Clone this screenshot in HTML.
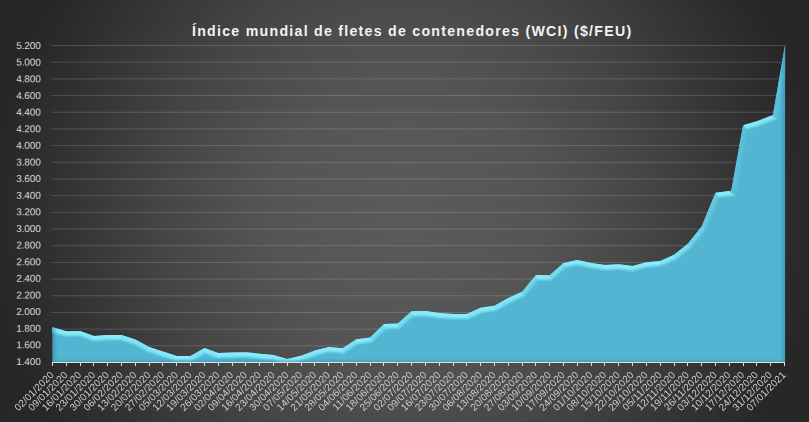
<!DOCTYPE html>
<html lang="es"><head><meta charset="utf-8"><title>WCI</title>
<style>
html,body{margin:0;padding:0;background:#2a2a2a;}
body{width:809px;height:422px;overflow:hidden;}
svg{display:block;}
text{font-family:"Liberation Sans","DejaVu Sans",sans-serif;}
.yl{font-size:10px;fill:#d9d9d9;letter-spacing:-0.1px;}
.xl{font-size:10px;fill:#d0d0d0;letter-spacing:0.1px;}
.title{font-size:14.2px;font-weight:bold;fill:#f2f2f2;letter-spacing:1.25px;}
</style></head><body>
<svg width="809" height="422" viewBox="0 0 809 422">
<defs>
<radialGradient id="bg" cx="405" cy="215" r="410" gradientUnits="userSpaceOnUse">
<stop offset="0" stop-color="#5a5a5a"/><stop offset="0.32" stop-color="#555555"/><stop offset="0.5" stop-color="#4b4b4b"/><stop offset="0.61" stop-color="#444444"/><stop offset="0.87" stop-color="#303030"/><stop offset="1" stop-color="#272727"/>
</radialGradient>
<clipPath id="areaclip"><path d="M52.50,362.50 L52.50,327.30 L66.31,331.22 L80.12,330.88 L93.93,335.89 L107.75,335.05 L121.56,335.05 L135.37,339.39 L149.18,347.07 L162.99,351.49 L176.80,355.91 L190.61,355.91 L204.42,348.07 L218.24,353.07 L232.05,352.41 L245.86,352.16 L259.67,353.74 L273.48,354.99 L287.29,358.91 L301.10,355.66 L314.92,350.49 L328.73,347.07 L342.54,348.24 L356.35,339.14 L370.16,337.39 L383.97,323.96 L397.78,323.46 L411.59,311.36 L425.41,311.11 L439.22,313.11 L453.03,314.03 L466.84,314.03 L480.65,307.86 L494.46,305.86 L508.27,298.10 L522.08,291.68 L535.90,274.99 L549.71,275.24 L563.52,262.90 L577.33,259.89 L591.14,262.90 L604.95,265.06 L618.76,264.31 L632.58,265.90 L646.39,262.23 L660.20,260.89 L674.01,254.80 L687.82,243.71 L701.63,226.52 L715.44,192.82 L731.25,190.77 L743.07,125.17 L756.88,121.25 L772.89,115.07 L785.10,44.67 L785.10,362.50 Z"/></clipPath>
<linearGradient id="sideL" x1="0" y1="0" x2="1" y2="0"><stop offset="0" stop-color="#2f88a6" stop-opacity="0.55"/><stop offset="1" stop-color="#2f88a6" stop-opacity="0"/></linearGradient>
<linearGradient id="sideR" x1="1" y1="0" x2="0" y2="0"><stop offset="0" stop-color="#2f88a6" stop-opacity="0.55"/><stop offset="1" stop-color="#2f88a6" stop-opacity="0"/></linearGradient>
<linearGradient id="sideB" x1="0" y1="1" x2="0" y2="0"><stop offset="0" stop-color="#2f88a6" stop-opacity="0.5"/><stop offset="1" stop-color="#2f88a6" stop-opacity="0"/></linearGradient>
<filter id="blur1" x="-5%" y="-5%" width="110%" height="110%"><feGaussianBlur stdDeviation="0.7"/></filter>
<linearGradient id="g0" gradientUnits="userSpaceOnUse" x1="51.00" y1="326.87" x2="49.22" y2="333.12"><stop offset="0" stop-color="#87edfd"/><stop offset="0.5" stop-color="#7fe5f6"/><stop offset="1" stop-color="#52b5d1"/></linearGradient>
<linearGradient id="g1" gradientUnits="userSpaceOnUse" x1="59.41" y1="329.26" x2="57.63" y2="335.51"><stop offset="0" stop-color="#87edfd"/><stop offset="0.5" stop-color="#7fe5f6"/><stop offset="1" stop-color="#52b5d1"/></linearGradient>
<linearGradient id="g2" gradientUnits="userSpaceOnUse" x1="73.22" y1="331.05" x2="73.37" y2="337.55"><stop offset="0" stop-color="#8af0ff"/><stop offset="0.5" stop-color="#82e7f8"/><stop offset="1" stop-color="#52b5d1"/></linearGradient>
<linearGradient id="g3" gradientUnits="userSpaceOnUse" x1="87.03" y1="333.39" x2="84.81" y2="339.50"><stop offset="0" stop-color="#86ecfc"/><stop offset="0.5" stop-color="#7ee4f6"/><stop offset="1" stop-color="#52b5d1"/></linearGradient>
<linearGradient id="g4" gradientUnits="userSpaceOnUse" x1="100.84" y1="335.47" x2="101.23" y2="341.96"><stop offset="0" stop-color="#8af0ff"/><stop offset="0.5" stop-color="#82e7f8"/><stop offset="1" stop-color="#52b5d1"/></linearGradient>
<linearGradient id="g5" gradientUnits="userSpaceOnUse" x1="114.65" y1="335.05" x2="114.65" y2="341.55"><stop offset="0" stop-color="#8af0ff"/><stop offset="0.5" stop-color="#82e7f8"/><stop offset="1" stop-color="#52b5d1"/></linearGradient>
<linearGradient id="g6" gradientUnits="userSpaceOnUse" x1="128.46" y1="337.22" x2="126.51" y2="343.42"><stop offset="0" stop-color="#87edfc"/><stop offset="0.5" stop-color="#7fe5f6"/><stop offset="1" stop-color="#52b5d1"/></linearGradient>
<linearGradient id="g7" gradientUnits="userSpaceOnUse" x1="142.27" y1="343.23" x2="139.12" y2="348.91"><stop offset="0" stop-color="#81e7f8"/><stop offset="0.5" stop-color="#7ae0f2"/><stop offset="1" stop-color="#52b5d1"/></linearGradient>
<linearGradient id="g8" gradientUnits="userSpaceOnUse" x1="156.08" y1="349.28" x2="154.10" y2="355.47"><stop offset="0" stop-color="#87ecfc"/><stop offset="0.5" stop-color="#7fe4f6"/><stop offset="1" stop-color="#52b5d1"/></linearGradient>
<linearGradient id="g9" gradientUnits="userSpaceOnUse" x1="169.90" y1="353.70" x2="167.91" y2="359.89"><stop offset="0" stop-color="#87ecfc"/><stop offset="0.5" stop-color="#7fe4f6"/><stop offset="1" stop-color="#52b5d1"/></linearGradient>
<linearGradient id="g10" gradientUnits="userSpaceOnUse" x1="183.71" y1="355.91" x2="183.71" y2="362.41"><stop offset="0" stop-color="#8af0ff"/><stop offset="0.5" stop-color="#82e7f8"/><stop offset="1" stop-color="#52b5d1"/></linearGradient>
<linearGradient id="g11" gradientUnits="userSpaceOnUse" x1="197.52" y1="351.99" x2="200.73" y2="357.64"><stop offset="0" stop-color="#81e7f8"/><stop offset="0.5" stop-color="#7ae0f2"/><stop offset="1" stop-color="#52b5d1"/></linearGradient>
<linearGradient id="g12" gradientUnits="userSpaceOnUse" x1="211.33" y1="350.57" x2="209.12" y2="356.68"><stop offset="0" stop-color="#86ecfc"/><stop offset="0.5" stop-color="#7ee4f6"/><stop offset="1" stop-color="#52b5d1"/></linearGradient>
<linearGradient id="g13" gradientUnits="userSpaceOnUse" x1="225.14" y1="352.74" x2="225.46" y2="359.23"><stop offset="0" stop-color="#8af0ff"/><stop offset="0.5" stop-color="#82e7f8"/><stop offset="1" stop-color="#52b5d1"/></linearGradient>
<linearGradient id="g14" gradientUnits="userSpaceOnUse" x1="238.95" y1="352.28" x2="239.07" y2="358.78"><stop offset="0" stop-color="#8af0ff"/><stop offset="0.5" stop-color="#82e7f8"/><stop offset="1" stop-color="#52b5d1"/></linearGradient>
<linearGradient id="g15" gradientUnits="userSpaceOnUse" x1="252.76" y1="352.95" x2="252.02" y2="359.41"><stop offset="0" stop-color="#8af0ff"/><stop offset="0.5" stop-color="#82e7f8"/><stop offset="1" stop-color="#52b5d1"/></linearGradient>
<linearGradient id="g16" gradientUnits="userSpaceOnUse" x1="266.58" y1="354.37" x2="265.99" y2="360.84"><stop offset="0" stop-color="#8af0ff"/><stop offset="0.5" stop-color="#82e7f8"/><stop offset="1" stop-color="#52b5d1"/></linearGradient>
<linearGradient id="g17" gradientUnits="userSpaceOnUse" x1="280.39" y1="356.95" x2="278.61" y2="363.21"><stop offset="0" stop-color="#87edfd"/><stop offset="0.5" stop-color="#7fe5f6"/><stop offset="1" stop-color="#52b5d1"/></linearGradient>
<linearGradient id="g18" gradientUnits="userSpaceOnUse" x1="294.20" y1="357.29" x2="295.69" y2="363.61"><stop offset="0" stop-color="#88eefd"/><stop offset="0.5" stop-color="#80e5f6"/><stop offset="1" stop-color="#52b5d1"/></linearGradient>
<linearGradient id="g19" gradientUnits="userSpaceOnUse" x1="308.01" y1="353.07" x2="310.29" y2="359.16"><stop offset="0" stop-color="#86ebfb"/><stop offset="0.5" stop-color="#7ee3f5"/><stop offset="1" stop-color="#52b5d1"/></linearGradient>
<linearGradient id="g20" gradientUnits="userSpaceOnUse" x1="321.82" y1="348.78" x2="323.38" y2="355.09"><stop offset="0" stop-color="#88eefd"/><stop offset="0.5" stop-color="#80e5f6"/><stop offset="1" stop-color="#52b5d1"/></linearGradient>
<linearGradient id="g21" gradientUnits="userSpaceOnUse" x1="335.63" y1="347.65" x2="335.08" y2="354.13"><stop offset="0" stop-color="#8af0ff"/><stop offset="0.5" stop-color="#82e7f8"/><stop offset="1" stop-color="#52b5d1"/></linearGradient>
<linearGradient id="g22" gradientUnits="userSpaceOnUse" x1="349.44" y1="343.69" x2="353.02" y2="349.12"><stop offset="0" stop-color="#7fe4f6"/><stop offset="0.5" stop-color="#78ddf0"/><stop offset="1" stop-color="#52b5d1"/></linearGradient>
<linearGradient id="g23" gradientUnits="userSpaceOnUse" x1="363.25" y1="338.27" x2="364.07" y2="344.71"><stop offset="0" stop-color="#89efff"/><stop offset="0.5" stop-color="#81e6f8"/><stop offset="1" stop-color="#52b5d1"/></linearGradient>
<linearGradient id="g24" gradientUnits="userSpaceOnUse" x1="377.07" y1="330.67" x2="381.60" y2="335.33"><stop offset="0" stop-color="#77dcf0"/><stop offset="0.5" stop-color="#71d6eb"/><stop offset="1" stop-color="#52b5d1"/></linearGradient>
<linearGradient id="g25" gradientUnits="userSpaceOnUse" x1="390.88" y1="323.71" x2="391.11" y2="330.20"><stop offset="0" stop-color="#8af0ff"/><stop offset="0.5" stop-color="#82e7f8"/><stop offset="1" stop-color="#52b5d1"/></linearGradient>
<linearGradient id="g26" gradientUnits="userSpaceOnUse" x1="404.69" y1="317.41" x2="408.97" y2="322.30"><stop offset="0" stop-color="#79dff1"/><stop offset="0.5" stop-color="#73d9ec"/><stop offset="1" stop-color="#52b5d1"/></linearGradient>
<linearGradient id="g27" gradientUnits="userSpaceOnUse" x1="418.50" y1="311.24" x2="418.62" y2="317.74"><stop offset="0" stop-color="#8af0ff"/><stop offset="0.5" stop-color="#82e7f8"/><stop offset="1" stop-color="#52b5d1"/></linearGradient>
<linearGradient id="g28" gradientUnits="userSpaceOnUse" x1="432.31" y1="312.11" x2="431.38" y2="318.55"><stop offset="0" stop-color="#89effe"/><stop offset="0.5" stop-color="#81e6f7"/><stop offset="1" stop-color="#52b5d1"/></linearGradient>
<linearGradient id="g29" gradientUnits="userSpaceOnUse" x1="446.12" y1="313.57" x2="445.69" y2="320.06"><stop offset="0" stop-color="#8af0ff"/><stop offset="0.5" stop-color="#82e7f8"/><stop offset="1" stop-color="#52b5d1"/></linearGradient>
<linearGradient id="g30" gradientUnits="userSpaceOnUse" x1="459.93" y1="314.03" x2="459.93" y2="320.53"><stop offset="0" stop-color="#8af0ff"/><stop offset="0.5" stop-color="#82e7f8"/><stop offset="1" stop-color="#52b5d1"/></linearGradient>
<linearGradient id="g31" gradientUnits="userSpaceOnUse" x1="473.75" y1="310.95" x2="476.40" y2="316.88"><stop offset="0" stop-color="#84eafa"/><stop offset="0.5" stop-color="#7ce2f4"/><stop offset="1" stop-color="#52b5d1"/></linearGradient>
<linearGradient id="g32" gradientUnits="userSpaceOnUse" x1="487.56" y1="306.86" x2="488.49" y2="313.29"><stop offset="0" stop-color="#89effe"/><stop offset="0.5" stop-color="#81e6f7"/><stop offset="1" stop-color="#52b5d1"/></linearGradient>
<linearGradient id="g33" gradientUnits="userSpaceOnUse" x1="501.37" y1="301.98" x2="504.55" y2="307.65"><stop offset="0" stop-color="#81e7f8"/><stop offset="0.5" stop-color="#7ae0f2"/><stop offset="1" stop-color="#52b5d1"/></linearGradient>
<linearGradient id="g34" gradientUnits="userSpaceOnUse" x1="515.18" y1="294.89" x2="517.92" y2="300.78"><stop offset="0" stop-color="#84e9fa"/><stop offset="0.5" stop-color="#7ce1f4"/><stop offset="1" stop-color="#52b5d1"/></linearGradient>
<linearGradient id="g35" gradientUnits="userSpaceOnUse" x1="528.99" y1="283.33" x2="534.00" y2="287.48"><stop offset="0" stop-color="#72d7ec"/><stop offset="0.5" stop-color="#6dd2e8"/><stop offset="1" stop-color="#52b5d1"/></linearGradient>
<linearGradient id="g36" gradientUnits="userSpaceOnUse" x1="542.80" y1="275.12" x2="542.68" y2="281.62"><stop offset="0" stop-color="#8af0ff"/><stop offset="0.5" stop-color="#82e7f8"/><stop offset="1" stop-color="#52b5d1"/></linearGradient>
<linearGradient id="g37" gradientUnits="userSpaceOnUse" x1="556.61" y1="269.07" x2="560.95" y2="273.91"><stop offset="0" stop-color="#79def1"/><stop offset="0.5" stop-color="#73d8ec"/><stop offset="1" stop-color="#52b5d1"/></linearGradient>
<linearGradient id="g38" gradientUnits="userSpaceOnUse" x1="570.42" y1="261.39" x2="571.81" y2="267.75"><stop offset="0" stop-color="#88eefe"/><stop offset="0.5" stop-color="#80e5f7"/><stop offset="1" stop-color="#52b5d1"/></linearGradient>
<linearGradient id="g39" gradientUnits="userSpaceOnUse" x1="584.24" y1="261.39" x2="582.85" y2="267.75"><stop offset="0" stop-color="#88eefe"/><stop offset="0.5" stop-color="#80e5f7"/><stop offset="1" stop-color="#52b5d1"/></linearGradient>
<linearGradient id="g40" gradientUnits="userSpaceOnUse" x1="598.05" y1="263.98" x2="597.04" y2="270.40"><stop offset="0" stop-color="#89effe"/><stop offset="0.5" stop-color="#81e6f7"/><stop offset="1" stop-color="#52b5d1"/></linearGradient>
<linearGradient id="g41" gradientUnits="userSpaceOnUse" x1="611.86" y1="264.69" x2="612.21" y2="271.18"><stop offset="0" stop-color="#8af0ff"/><stop offset="0.5" stop-color="#82e7f8"/><stop offset="1" stop-color="#52b5d1"/></linearGradient>
<linearGradient id="g42" gradientUnits="userSpaceOnUse" x1="625.67" y1="265.11" x2="624.93" y2="271.56"><stop offset="0" stop-color="#8af0ff"/><stop offset="0.5" stop-color="#82e7f8"/><stop offset="1" stop-color="#52b5d1"/></linearGradient>
<linearGradient id="g43" gradientUnits="userSpaceOnUse" x1="639.48" y1="264.06" x2="641.15" y2="270.35"><stop offset="0" stop-color="#88eefd"/><stop offset="0.5" stop-color="#80e5f6"/><stop offset="1" stop-color="#52b5d1"/></linearGradient>
<linearGradient id="g44" gradientUnits="userSpaceOnUse" x1="653.29" y1="261.56" x2="653.92" y2="268.03"><stop offset="0" stop-color="#8af0ff"/><stop offset="0.5" stop-color="#82e7f8"/><stop offset="1" stop-color="#52b5d1"/></linearGradient>
<linearGradient id="g45" gradientUnits="userSpaceOnUse" x1="667.10" y1="257.85" x2="669.73" y2="263.80"><stop offset="0" stop-color="#84eafa"/><stop offset="0.5" stop-color="#7ce2f4"/><stop offset="1" stop-color="#52b5d1"/></linearGradient>
<linearGradient id="g46" gradientUnits="userSpaceOnUse" x1="680.92" y1="249.26" x2="684.99" y2="254.32"><stop offset="0" stop-color="#7be0f3"/><stop offset="0.5" stop-color="#75daee"/><stop offset="1" stop-color="#52b5d1"/></linearGradient>
<linearGradient id="g47" gradientUnits="userSpaceOnUse" x1="694.73" y1="235.12" x2="699.79" y2="239.19"><stop offset="0" stop-color="#72d6eb"/><stop offset="0.5" stop-color="#6dd1e7"/><stop offset="1" stop-color="#52b5d1"/></linearGradient>
<linearGradient id="g48" gradientUnits="userSpaceOnUse" x1="708.54" y1="209.67" x2="714.55" y2="212.14"><stop offset="0" stop-color="#65c9e0"/><stop offset="0.5" stop-color="#62c6de"/><stop offset="1" stop-color="#52b5d1"/></linearGradient>
<linearGradient id="g49" gradientUnits="userSpaceOnUse" x1="723.35" y1="191.80" x2="724.19" y2="198.24"><stop offset="0" stop-color="#89efff"/><stop offset="0.5" stop-color="#81e6f8"/><stop offset="1" stop-color="#52b5d1"/></linearGradient>
<linearGradient id="g50" gradientUnits="userSpaceOnUse" x1="737.16" y1="157.97" x2="743.56" y2="159.12"><stop offset="0" stop-color="#5cc0d9"/><stop offset="0.5" stop-color="#5abed8"/><stop offset="1" stop-color="#52b5d1"/></linearGradient>
<linearGradient id="g51" gradientUnits="userSpaceOnUse" x1="749.97" y1="123.21" x2="751.75" y2="129.46"><stop offset="0" stop-color="#87edfd"/><stop offset="0.5" stop-color="#7fe5f6"/><stop offset="1" stop-color="#52b5d1"/></linearGradient>
<linearGradient id="g52" gradientUnits="userSpaceOnUse" x1="764.88" y1="118.16" x2="767.22" y2="124.23"><stop offset="0" stop-color="#85ebfb"/><stop offset="0.5" stop-color="#7de3f5"/><stop offset="1" stop-color="#52b5d1"/></linearGradient>
<linearGradient id="g53" gradientUnits="userSpaceOnUse" x1="778.99" y1="79.87" x2="785.40" y2="80.98"><stop offset="0" stop-color="#5cbfd9"/><stop offset="0.5" stop-color="#5abed8"/><stop offset="1" stop-color="#52b5d1"/></linearGradient>
<linearGradient id="g54" gradientUnits="userSpaceOnUse" x1="786.60" y1="37.02" x2="792.98" y2="38.27"><stop offset="0" stop-color="#5dc0da"/><stop offset="0.5" stop-color="#5bbed9"/><stop offset="1" stop-color="#52b5d1"/></linearGradient>
</defs>
<rect width="809" height="422" fill="url(#bg)"/>
<rect x="51" y="45.00" width="733.5" height="1" fill="#ffffff" fill-opacity="0.16"/>
<text transform="translate(40.7,49.00) rotate(0.03)" text-anchor="end" class="yl">5.200</text>
<rect x="51" y="61.68" width="733.5" height="1" fill="#ffffff" fill-opacity="0.16"/>
<text transform="translate(40.7,65.63) rotate(0.03)" text-anchor="end" class="yl">5.000</text>
<rect x="51" y="78.37" width="733.5" height="1" fill="#ffffff" fill-opacity="0.16"/>
<text transform="translate(40.7,82.26) rotate(0.03)" text-anchor="end" class="yl">4.800</text>
<rect x="51" y="95.05" width="733.5" height="1" fill="#ffffff" fill-opacity="0.16"/>
<text transform="translate(40.7,98.89) rotate(0.03)" text-anchor="end" class="yl">4.600</text>
<rect x="51" y="111.74" width="733.5" height="1" fill="#ffffff" fill-opacity="0.16"/>
<text transform="translate(40.7,115.52) rotate(0.03)" text-anchor="end" class="yl">4.400</text>
<rect x="51" y="128.42" width="733.5" height="1" fill="#ffffff" fill-opacity="0.16"/>
<text transform="translate(40.7,132.15) rotate(0.03)" text-anchor="end" class="yl">4.200</text>
<rect x="51" y="145.11" width="733.5" height="1" fill="#ffffff" fill-opacity="0.16"/>
<text transform="translate(40.7,148.78) rotate(0.03)" text-anchor="end" class="yl">4.000</text>
<rect x="51" y="161.79" width="733.5" height="1" fill="#ffffff" fill-opacity="0.16"/>
<text transform="translate(40.7,165.41) rotate(0.03)" text-anchor="end" class="yl">3.800</text>
<rect x="51" y="178.47" width="733.5" height="1" fill="#ffffff" fill-opacity="0.16"/>
<text transform="translate(40.7,182.04) rotate(0.03)" text-anchor="end" class="yl">3.600</text>
<rect x="51" y="195.16" width="733.5" height="1" fill="#ffffff" fill-opacity="0.16"/>
<text transform="translate(40.7,198.67) rotate(0.03)" text-anchor="end" class="yl">3.400</text>
<rect x="51" y="211.84" width="733.5" height="1" fill="#ffffff" fill-opacity="0.16"/>
<text transform="translate(40.7,215.30) rotate(0.03)" text-anchor="end" class="yl">3.200</text>
<rect x="51" y="228.53" width="733.5" height="1" fill="#ffffff" fill-opacity="0.16"/>
<text transform="translate(40.7,231.93) rotate(0.03)" text-anchor="end" class="yl">3.000</text>
<rect x="51" y="245.21" width="733.5" height="1" fill="#ffffff" fill-opacity="0.16"/>
<text transform="translate(40.7,248.56) rotate(0.03)" text-anchor="end" class="yl">2.800</text>
<rect x="51" y="261.89" width="733.5" height="1" fill="#ffffff" fill-opacity="0.16"/>
<text transform="translate(40.7,265.19) rotate(0.03)" text-anchor="end" class="yl">2.600</text>
<rect x="51" y="278.58" width="733.5" height="1" fill="#ffffff" fill-opacity="0.16"/>
<text transform="translate(40.7,281.82) rotate(0.03)" text-anchor="end" class="yl">2.400</text>
<rect x="51" y="295.26" width="733.5" height="1" fill="#ffffff" fill-opacity="0.16"/>
<text transform="translate(40.7,298.45) rotate(0.03)" text-anchor="end" class="yl">2.200</text>
<rect x="51" y="311.95" width="733.5" height="1" fill="#ffffff" fill-opacity="0.16"/>
<text transform="translate(40.7,315.08) rotate(0.03)" text-anchor="end" class="yl">2.000</text>
<rect x="51" y="328.63" width="733.5" height="1" fill="#ffffff" fill-opacity="0.16"/>
<text transform="translate(40.7,331.71) rotate(0.03)" text-anchor="end" class="yl">1.800</text>
<rect x="51" y="345.32" width="733.5" height="1" fill="#ffffff" fill-opacity="0.16"/>
<text transform="translate(40.7,348.34) rotate(0.03)" text-anchor="end" class="yl">1.600</text>
<text transform="translate(40.7,364.97) rotate(0.03)" text-anchor="end" class="yl">1.400</text>
<path d="M52.50,362.50 L52.50,327.30 L66.31,331.22 L80.12,330.88 L93.93,335.89 L107.75,335.05 L121.56,335.05 L135.37,339.39 L149.18,347.07 L162.99,351.49 L176.80,355.91 L190.61,355.91 L204.42,348.07 L218.24,353.07 L232.05,352.41 L245.86,352.16 L259.67,353.74 L273.48,354.99 L287.29,358.91 L301.10,355.66 L314.92,350.49 L328.73,347.07 L342.54,348.24 L356.35,339.14 L370.16,337.39 L383.97,323.96 L397.78,323.46 L411.59,311.36 L425.41,311.11 L439.22,313.11 L453.03,314.03 L466.84,314.03 L480.65,307.86 L494.46,305.86 L508.27,298.10 L522.08,291.68 L535.90,274.99 L549.71,275.24 L563.52,262.90 L577.33,259.89 L591.14,262.90 L604.95,265.06 L618.76,264.31 L632.58,265.90 L646.39,262.23 L660.20,260.89 L674.01,254.80 L687.82,243.71 L701.63,226.52 L715.44,192.82 L731.25,190.77 L743.07,125.17 L756.88,121.25 L772.89,115.07 L785.10,44.67 L785.10,362.50 Z" fill="#52b5d1"/>
<g clip-path="url(#areaclip)"><g filter="url(#blur1)" shape-rendering="crispEdges">
<path d="M49.33,324.84 L53.49,326.02 L51.30,333.71 L47.15,332.53 Z" fill="url(#g0)"/>
<path d="M52.33,325.69 L67.30,329.94 L66.06,337.90 L50.15,333.39 Z" fill="url(#g1)"/>
<path d="M65.68,329.73 L80.69,329.37 L79.66,337.40 L64.88,337.75 Z" fill="url(#g2)"/>
<path d="M80.07,329.27 L95.01,334.68 L93.55,342.66 L78.49,337.21 Z" fill="url(#g3)"/>
<path d="M93.24,334.43 L108.25,333.52 L108.54,341.52 L92.38,342.49 Z" fill="url(#g4)"/>
<path d="M107.15,333.55 L122.16,333.55 L121.16,341.55 L107.34,341.55 Z" fill="url(#g5)"/>
<path d="M121.43,333.44 L136.39,338.14 L133.36,345.58 L119.99,341.37 Z" fill="url(#g6)"/>
<path d="M135.57,337.79 L150.43,346.05 L147.11,353.35 L132.26,345.10 Z" fill="url(#g7)"/>
<path d="M149.07,345.46 L164.02,350.24 L161.58,357.86 L146.01,352.88 Z" fill="url(#g8)"/>
<path d="M162.88,349.88 L177.83,354.66 L176.36,362.59 L160.44,357.50 Z" fill="url(#g9)"/>
<path d="M176.20,354.41 L191.21,354.41 L192.93,362.41 L175.19,362.41 Z" fill="url(#g10)"/>
<path d="M189.35,354.90 L204.21,346.47 L205.55,354.90 L191.81,362.71 Z" fill="url(#g11)"/>
<path d="M204.37,346.45 L219.31,351.87 L217.81,359.83 L204.46,355.00 Z" fill="url(#g12)"/>
<path d="M217.56,351.60 L232.57,350.88 L232.86,358.87 L216.65,359.66 Z" fill="url(#g13)"/>
<path d="M231.42,350.92 L246.43,350.65 L246.15,358.65 L231.66,358.91 Z" fill="url(#g14)"/>
<path d="M245.43,350.60 L260.44,352.32 L259.60,360.28 L244.95,358.59 Z" fill="url(#g15)"/>
<path d="M259.21,352.19 L274.21,353.55 L272.89,361.46 L258.41,360.15 Z" fill="url(#g16)"/>
<path d="M273.31,353.39 L288.28,357.63 L287.72,365.79 L271.71,361.25 Z" fill="url(#g17)"/>
<path d="M286.36,357.59 L301.34,354.06 L303.58,361.75 L286.56,365.76 Z" fill="url(#g18)"/>
<path d="M300.02,354.47 L314.95,348.87 L317.40,356.50 L302.43,362.10 Z" fill="url(#g19)"/>
<path d="M313.97,349.18 L328.95,345.47 L329.83,353.49 L316.26,356.85 Z" fill="url(#g20)"/>
<path d="M328.25,345.52 L343.26,346.79 L344.83,354.95 L328.65,353.58 Z" fill="url(#g21)"/>
<path d="M341.21,347.31 L356.03,337.56 L359.16,345.07 L343.73,355.23 Z" fill="url(#g22)"/>
<path d="M355.57,337.73 L370.57,335.83 L373.73,343.49 L358.07,345.48 Z" fill="url(#g23)"/>
<path d="M368.68,336.73 L383.36,322.47 L387.14,329.95 L372.70,343.98 Z" fill="url(#g24)"/>
<path d="M383.32,322.48 L398.33,321.94 L400.93,329.85 L386.11,330.39 Z" fill="url(#g25)"/>
<path d="M396.34,322.73 L411.06,309.84 L414.54,317.42 L399.88,330.27 Z" fill="url(#g26)"/>
<path d="M410.97,309.87 L425.98,309.60 L425.60,317.61 L413.49,317.83 Z" fill="url(#g27)"/>
<path d="M425.03,309.54 L440.03,311.72 L439.13,319.67 L424.40,317.54 Z" fill="url(#g28)"/>
<path d="M438.72,311.58 L453.73,312.58 L453.41,320.57 L437.94,319.54 Z" fill="url(#g29)"/>
<path d="M452.43,312.53 L467.44,312.53 L468.83,320.53 L452.21,320.53 Z" fill="url(#g30)"/>
<path d="M465.68,312.91 L480.59,306.24 L483.03,313.92 L467.68,320.78 Z" fill="url(#g31)"/>
<path d="M479.84,306.46 L494.84,304.29 L497.19,312.03 L481.88,314.25 Z" fill="url(#g32)"/>
<path d="M493.20,304.84 L508.06,296.50 L511.76,303.59 L496.07,312.41 Z" fill="url(#g33)"/>
<path d="M507.10,296.99 L522.00,290.06 L526.70,296.70 L510.70,304.14 Z" fill="url(#g34)"/>
<path d="M520.55,291.18 L535.12,273.57 L539.29,281.08 L525.77,297.41 Z" fill="url(#g35)"/>
<path d="M535.32,273.48 L550.33,273.75 L552.74,281.80 L538.31,281.54 Z" fill="url(#g36)"/>
<path d="M548.26,274.52 L562.97,261.38 L567.02,268.48 L551.69,282.19 Z" fill="url(#g37)"/>
<path d="M562.61,261.56 L577.60,258.30 L577.92,266.42 L565.99,269.01 Z" fill="url(#g38)"/>
<path d="M577.06,258.30 L592.05,261.56 L590.53,269.41 L576.74,266.42 Z" fill="url(#g39)"/>
<path d="M590.78,261.32 L605.78,263.68 L605.21,271.68 L589.35,269.19 Z" fill="url(#g40)"/>
<path d="M604.27,263.60 L619.28,262.78 L619.17,270.80 L604.02,271.62 Z" fill="url(#g41)"/>
<path d="M618.34,262.75 L633.34,264.48 L633.65,272.56 L617.97,270.77 Z" fill="url(#g42)"/>
<path d="M631.61,264.60 L646.58,260.62 L648.12,268.49 L632.48,272.65 Z" fill="url(#g43)"/>
<path d="M645.65,260.79 L660.65,259.34 L662.46,267.20 L646.94,268.70 Z" fill="url(#g44)"/>
<path d="M659.04,259.76 L673.95,253.19 L677.96,260.16 L661.31,267.50 Z" fill="url(#g45)"/>
<path d="M672.60,254.01 L687.35,242.16 L692.91,247.96 L676.95,260.78 Z" fill="url(#g46)"/>
<path d="M686.28,243.24 L700.84,225.12 L707.67,229.39 L692.07,248.80 Z" fill="url(#g47)"/>
<path d="M700.02,226.51 L714.28,191.70 L720.25,198.23 L707.06,230.42 Z" fill="url(#g48)"/>
<path d="M714.66,191.41 L731.66,189.21 L737.40,196.53 L719.43,198.86 Z" fill="url(#g49)"/>
<path d="M729.67,191.09 L741.70,124.31 L748.85,129.72 L736.70,197.19 Z" fill="url(#g50)"/>
<path d="M742.08,123.89 L757.04,119.64 L759.52,127.25 L748.17,130.48 Z" fill="url(#g51)"/>
<path d="M755.78,120.06 L772.91,113.46 L779.22,119.60 L758.38,127.63 Z" fill="url(#g52)"/>
<path d="M771.31,115.41 L783.72,43.82 L791.59,45.26 L778.56,120.41 Z" fill="url(#g53)"/>
<path d="M783.51,44.97 L786.74,28.49 L794.59,30.03 L791.38,46.44 Z" fill="url(#g54)"/>
</g>
<rect x="52.5" y="40" width="5" height="322.5" fill="url(#sideL)"/>
<rect x="780.1" y="40" width="5" height="322.5" fill="url(#sideR)"/>
<rect x="52.5" y="358.5" width="732.6" height="4" fill="url(#sideB)"/>
</g>
<rect x="52.0" y="362.0" width="733.0" height="1" fill="#e2e2e2"/>
<rect x="52" y="362.0" width="1" height="4" fill="#dedede"/>
<rect x="66" y="362.0" width="1" height="4" fill="#dedede"/>
<rect x="80" y="362.0" width="1" height="4" fill="#dedede"/>
<rect x="93" y="362.0" width="1" height="4" fill="#dedede"/>
<rect x="107" y="362.0" width="1" height="4" fill="#dedede"/>
<rect x="121" y="362.0" width="1" height="4" fill="#dedede"/>
<rect x="135" y="362.0" width="1" height="4" fill="#dedede"/>
<rect x="149" y="362.0" width="1" height="4" fill="#dedede"/>
<rect x="162" y="362.0" width="1" height="4" fill="#dedede"/>
<rect x="176" y="362.0" width="1" height="4" fill="#dedede"/>
<rect x="190" y="362.0" width="1" height="4" fill="#dedede"/>
<rect x="204" y="362.0" width="1" height="4" fill="#dedede"/>
<rect x="218" y="362.0" width="1" height="4" fill="#dedede"/>
<rect x="232" y="362.0" width="1" height="4" fill="#dedede"/>
<rect x="245" y="362.0" width="1" height="4" fill="#dedede"/>
<rect x="259" y="362.0" width="1" height="4" fill="#dedede"/>
<rect x="273" y="362.0" width="1" height="4" fill="#dedede"/>
<rect x="287" y="362.0" width="1" height="4" fill="#dedede"/>
<rect x="301" y="362.0" width="1" height="4" fill="#dedede"/>
<rect x="314" y="362.0" width="1" height="4" fill="#dedede"/>
<rect x="328" y="362.0" width="1" height="4" fill="#dedede"/>
<rect x="342" y="362.0" width="1" height="4" fill="#dedede"/>
<rect x="356" y="362.0" width="1" height="4" fill="#dedede"/>
<rect x="370" y="362.0" width="1" height="4" fill="#dedede"/>
<rect x="383" y="362.0" width="1" height="4" fill="#dedede"/>
<rect x="397" y="362.0" width="1" height="4" fill="#dedede"/>
<rect x="411" y="362.0" width="1" height="4" fill="#dedede"/>
<rect x="425" y="362.0" width="1" height="4" fill="#dedede"/>
<rect x="439" y="362.0" width="1" height="4" fill="#dedede"/>
<rect x="453" y="362.0" width="1" height="4" fill="#dedede"/>
<rect x="466" y="362.0" width="1" height="4" fill="#dedede"/>
<rect x="480" y="362.0" width="1" height="4" fill="#dedede"/>
<rect x="494" y="362.0" width="1" height="4" fill="#dedede"/>
<rect x="508" y="362.0" width="1" height="4" fill="#dedede"/>
<rect x="522" y="362.0" width="1" height="4" fill="#dedede"/>
<rect x="535" y="362.0" width="1" height="4" fill="#dedede"/>
<rect x="549" y="362.0" width="1" height="4" fill="#dedede"/>
<rect x="563" y="362.0" width="1" height="4" fill="#dedede"/>
<rect x="577" y="362.0" width="1" height="4" fill="#dedede"/>
<rect x="591" y="362.0" width="1" height="4" fill="#dedede"/>
<rect x="604" y="362.0" width="1" height="4" fill="#dedede"/>
<rect x="618" y="362.0" width="1" height="4" fill="#dedede"/>
<rect x="632" y="362.0" width="1" height="4" fill="#dedede"/>
<rect x="646" y="362.0" width="1" height="4" fill="#dedede"/>
<rect x="660" y="362.0" width="1" height="4" fill="#dedede"/>
<rect x="674" y="362.0" width="1" height="4" fill="#dedede"/>
<rect x="687" y="362.0" width="1" height="4" fill="#dedede"/>
<rect x="701" y="362.0" width="1" height="4" fill="#dedede"/>
<rect x="715" y="362.0" width="1" height="4" fill="#dedede"/>
<rect x="729" y="362.0" width="1" height="4" fill="#dedede"/>
<rect x="743" y="362.0" width="1" height="4" fill="#dedede"/>
<rect x="756" y="362.0" width="1" height="4" fill="#dedede"/>
<rect x="770" y="362.0" width="1" height="4" fill="#dedede"/>
<rect x="784" y="362.0" width="1" height="4" fill="#dedede"/>
<g opacity="0.99">
<text transform="translate(54.50,375.50) rotate(-45)" text-anchor="end" class="xl">02/01/2020</text>
<text transform="translate(68.31,375.50) rotate(-45)" text-anchor="end" class="xl">09/01/2020</text>
<text transform="translate(82.12,375.50) rotate(-45)" text-anchor="end" class="xl">16/01/2020</text>
<text transform="translate(95.93,375.50) rotate(-45)" text-anchor="end" class="xl">23/01/2020</text>
<text transform="translate(109.75,375.50) rotate(-45)" text-anchor="end" class="xl">30/01/2020</text>
<text transform="translate(123.56,375.50) rotate(-45)" text-anchor="end" class="xl">06/02/2020</text>
<text transform="translate(137.37,375.50) rotate(-45)" text-anchor="end" class="xl">13/02/2020</text>
<text transform="translate(151.18,375.50) rotate(-45)" text-anchor="end" class="xl">20/02/2020</text>
<text transform="translate(164.99,375.50) rotate(-45)" text-anchor="end" class="xl">27/02/2020</text>
<text transform="translate(178.80,375.50) rotate(-45)" text-anchor="end" class="xl">05/03/2020</text>
<text transform="translate(192.61,375.50) rotate(-45)" text-anchor="end" class="xl">12/03/2020</text>
<text transform="translate(206.42,375.50) rotate(-45)" text-anchor="end" class="xl">19/03/2020</text>
<text transform="translate(220.24,375.50) rotate(-45)" text-anchor="end" class="xl">26/03/2020</text>
<text transform="translate(234.05,375.50) rotate(-45)" text-anchor="end" class="xl">02/04/2020</text>
<text transform="translate(247.86,375.50) rotate(-45)" text-anchor="end" class="xl">09/04/2020</text>
<text transform="translate(261.67,375.50) rotate(-45)" text-anchor="end" class="xl">16/04/2020</text>
<text transform="translate(275.48,375.50) rotate(-45)" text-anchor="end" class="xl">23/04/2020</text>
<text transform="translate(289.29,375.50) rotate(-45)" text-anchor="end" class="xl">30/04/2020</text>
<text transform="translate(303.10,375.50) rotate(-45)" text-anchor="end" class="xl">07/05/2020</text>
<text transform="translate(316.92,375.50) rotate(-45)" text-anchor="end" class="xl">14/05/2020</text>
<text transform="translate(330.73,375.50) rotate(-45)" text-anchor="end" class="xl">21/05/2020</text>
<text transform="translate(344.54,375.50) rotate(-45)" text-anchor="end" class="xl">28/05/2020</text>
<text transform="translate(358.35,375.50) rotate(-45)" text-anchor="end" class="xl">04/06/2020</text>
<text transform="translate(372.16,375.50) rotate(-45)" text-anchor="end" class="xl">11/06/2020</text>
<text transform="translate(385.97,375.50) rotate(-45)" text-anchor="end" class="xl">18/06/2020</text>
<text transform="translate(399.78,375.50) rotate(-45)" text-anchor="end" class="xl">25/06/2020</text>
<text transform="translate(413.59,375.50) rotate(-45)" text-anchor="end" class="xl">02/07/2020</text>
<text transform="translate(427.41,375.50) rotate(-45)" text-anchor="end" class="xl">09/07/2020</text>
<text transform="translate(441.22,375.50) rotate(-45)" text-anchor="end" class="xl">16/07/2020</text>
<text transform="translate(455.03,375.50) rotate(-45)" text-anchor="end" class="xl">23/07/2020</text>
<text transform="translate(468.84,375.50) rotate(-45)" text-anchor="end" class="xl">30/07/2020</text>
<text transform="translate(482.65,375.50) rotate(-45)" text-anchor="end" class="xl">06/08/2020</text>
<text transform="translate(496.46,375.50) rotate(-45)" text-anchor="end" class="xl">13/08/2020</text>
<text transform="translate(510.27,375.50) rotate(-45)" text-anchor="end" class="xl">20/08/2020</text>
<text transform="translate(524.08,375.50) rotate(-45)" text-anchor="end" class="xl">27/08/2020</text>
<text transform="translate(537.90,375.50) rotate(-45)" text-anchor="end" class="xl">03/09/2020</text>
<text transform="translate(551.71,375.50) rotate(-45)" text-anchor="end" class="xl">10/09/2020</text>
<text transform="translate(565.52,375.50) rotate(-45)" text-anchor="end" class="xl">17/09/2020</text>
<text transform="translate(579.33,375.50) rotate(-45)" text-anchor="end" class="xl">24/09/2020</text>
<text transform="translate(593.14,375.50) rotate(-45)" text-anchor="end" class="xl">01/10/2020</text>
<text transform="translate(606.95,375.50) rotate(-45)" text-anchor="end" class="xl">08/10/2020</text>
<text transform="translate(620.76,375.50) rotate(-45)" text-anchor="end" class="xl">15/10/2020</text>
<text transform="translate(634.58,375.50) rotate(-45)" text-anchor="end" class="xl">22/10/2020</text>
<text transform="translate(648.39,375.50) rotate(-45)" text-anchor="end" class="xl">29/10/2020</text>
<text transform="translate(662.20,375.50) rotate(-45)" text-anchor="end" class="xl">05/11/2020</text>
<text transform="translate(676.01,375.50) rotate(-45)" text-anchor="end" class="xl">12/11/2020</text>
<text transform="translate(689.82,375.50) rotate(-45)" text-anchor="end" class="xl">19/11/2020</text>
<text transform="translate(703.63,375.50) rotate(-45)" text-anchor="end" class="xl">26/11/2020</text>
<text transform="translate(717.44,375.50) rotate(-45)" text-anchor="end" class="xl">03/12/2020</text>
<text transform="translate(731.25,375.50) rotate(-45)" text-anchor="end" class="xl">10/12/2020</text>
<text transform="translate(745.07,375.50) rotate(-45)" text-anchor="end" class="xl">17/12/2020</text>
<text transform="translate(758.88,375.50) rotate(-45)" text-anchor="end" class="xl">24/12/2020</text>
<text transform="translate(772.69,375.50) rotate(-45)" text-anchor="end" class="xl">31/12/2020</text>
<text transform="translate(786.50,375.50) rotate(-45)" text-anchor="end" class="xl">07/01/2021</text>
</g>
<text x="412.2" y="36" text-anchor="middle" class="title">Índice mundial de fletes de contenedores (WCI) ($/FEU)</text>
</svg>
</body></html>
